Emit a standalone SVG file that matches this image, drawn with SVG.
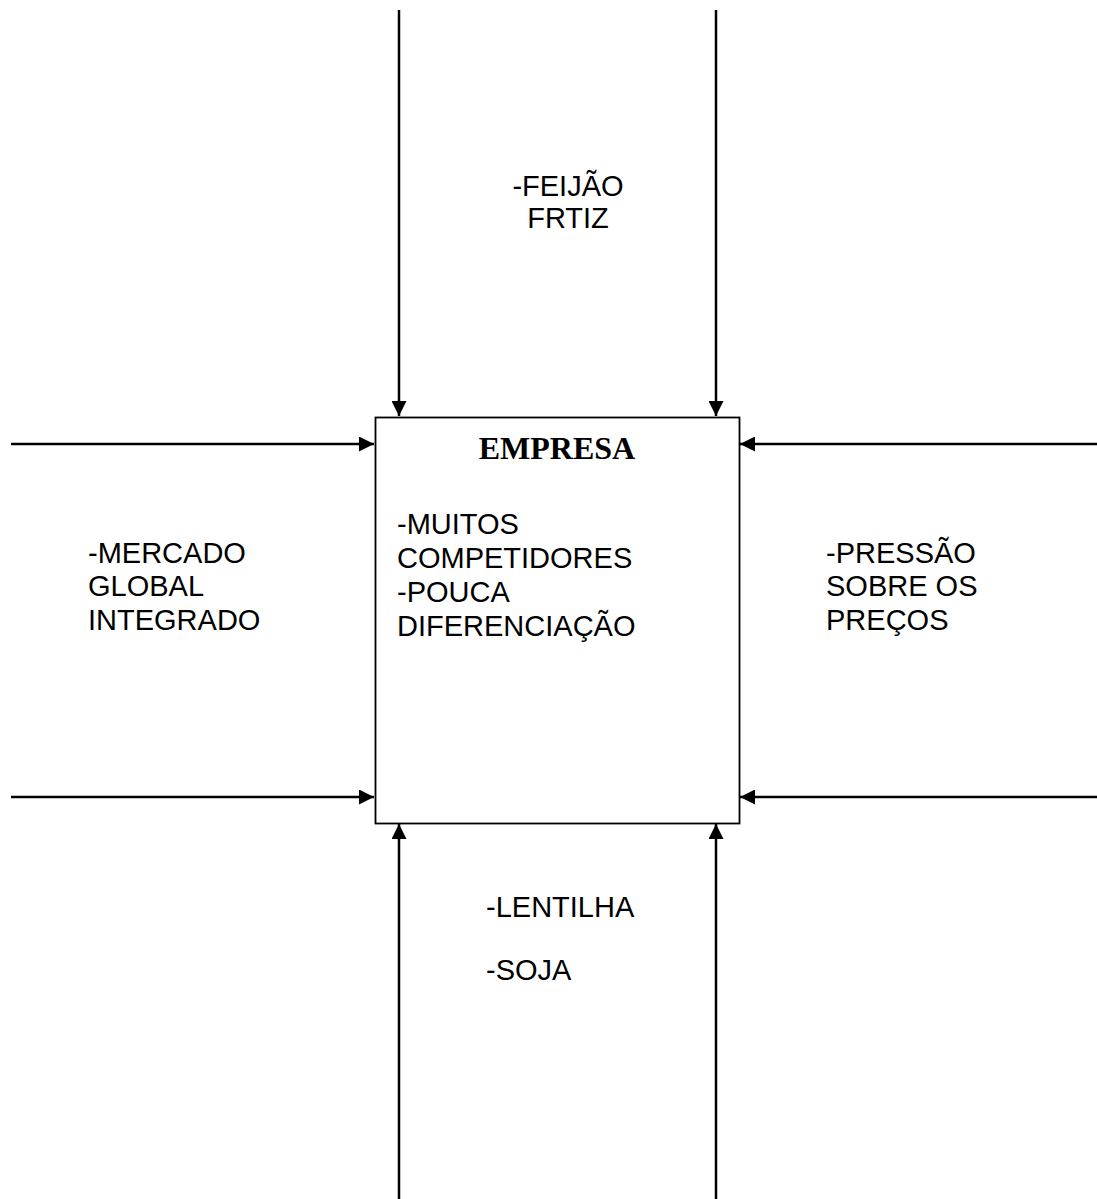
<svg xmlns="http://www.w3.org/2000/svg" width="1097" height="1199" viewBox="0 0 1097 1199">
<style>
.t{font-family:"Liberation Sans",Arial,sans-serif;font-size:29px;fill:#000}
.b{font-family:"Liberation Serif","Times New Roman",serif;font-size:32px;font-weight:bold;fill:#000}
.c{stroke:#000;stroke-width:2.5;fill:none}
</style>
<defs>
<marker id="ah" viewBox="0 0 10 10" refX="10" refY="5" markerWidth="6" markerHeight="6" orient="auto" markerUnits="strokeWidth">
<path d="M0,0 L10,5 L0,10 z" fill="#000"/>
</marker>
</defs>
<rect width="1097" height="1199" fill="#fff"/>
<g id="connectors">
<line class="c" x1="399" y1="10" x2="399" y2="416" marker-end="url(#ah)"/>
<line class="c" x1="716" y1="10" x2="716" y2="416" marker-end="url(#ah)"/>
<line class="c" x1="399" y1="1199" x2="399" y2="824" marker-end="url(#ah)"/>
<line class="c" x1="716" y1="1199" x2="716" y2="824" marker-end="url(#ah)"/>
<line class="c" x1="11" y1="444" x2="374" y2="444" marker-end="url(#ah)"/>
<line class="c" x1="11" y1="797" x2="374" y2="797" marker-end="url(#ah)"/>
<line class="c" x1="1097" y1="444" x2="740" y2="444" marker-end="url(#ah)"/>
<line class="c" x1="1097" y1="797" x2="740" y2="797" marker-end="url(#ah)"/>
</g>
<g id="empresa">
<rect x="375.5" y="417.5" width="364" height="406" fill="#fff" stroke="#000" stroke-width="1.8"/>
<text class="b" x="557" y="459" text-anchor="middle">EMPRESA</text>
<text class="t" x="397" y="534">-MUITOS</text>
<text class="t" x="397" y="568">COMPETIDORES</text>
<text class="t" x="397" y="602">-POUCA</text>
<text class="t" x="397" y="636">DIFERENCIAÇÃO</text>
</g>
<g id="top-label">
<text class="t" x="568" y="196" text-anchor="middle">-FEIJÃO</text>
<text class="t" x="568" y="228" text-anchor="middle">FRTIZ</text>
</g>
<g id="left-label">
<text class="t" x="88" y="563">-MERCADO</text>
<text class="t" x="88" y="596">GLOBAL</text>
<text class="t" x="88" y="630">INTEGRADO</text>
</g>
<g id="right-label">
<text class="t" x="826" y="563">-PRESSÃO</text>
<text class="t" x="826" y="596">SOBRE OS</text>
<text class="t" x="826" y="630">PREÇOS</text>
</g>
<g id="bottom-label">
<text class="t" x="486" y="917">-LENTILHA</text>
<text class="t" x="486" y="980">-SOJA</text>
</g>
</svg>
